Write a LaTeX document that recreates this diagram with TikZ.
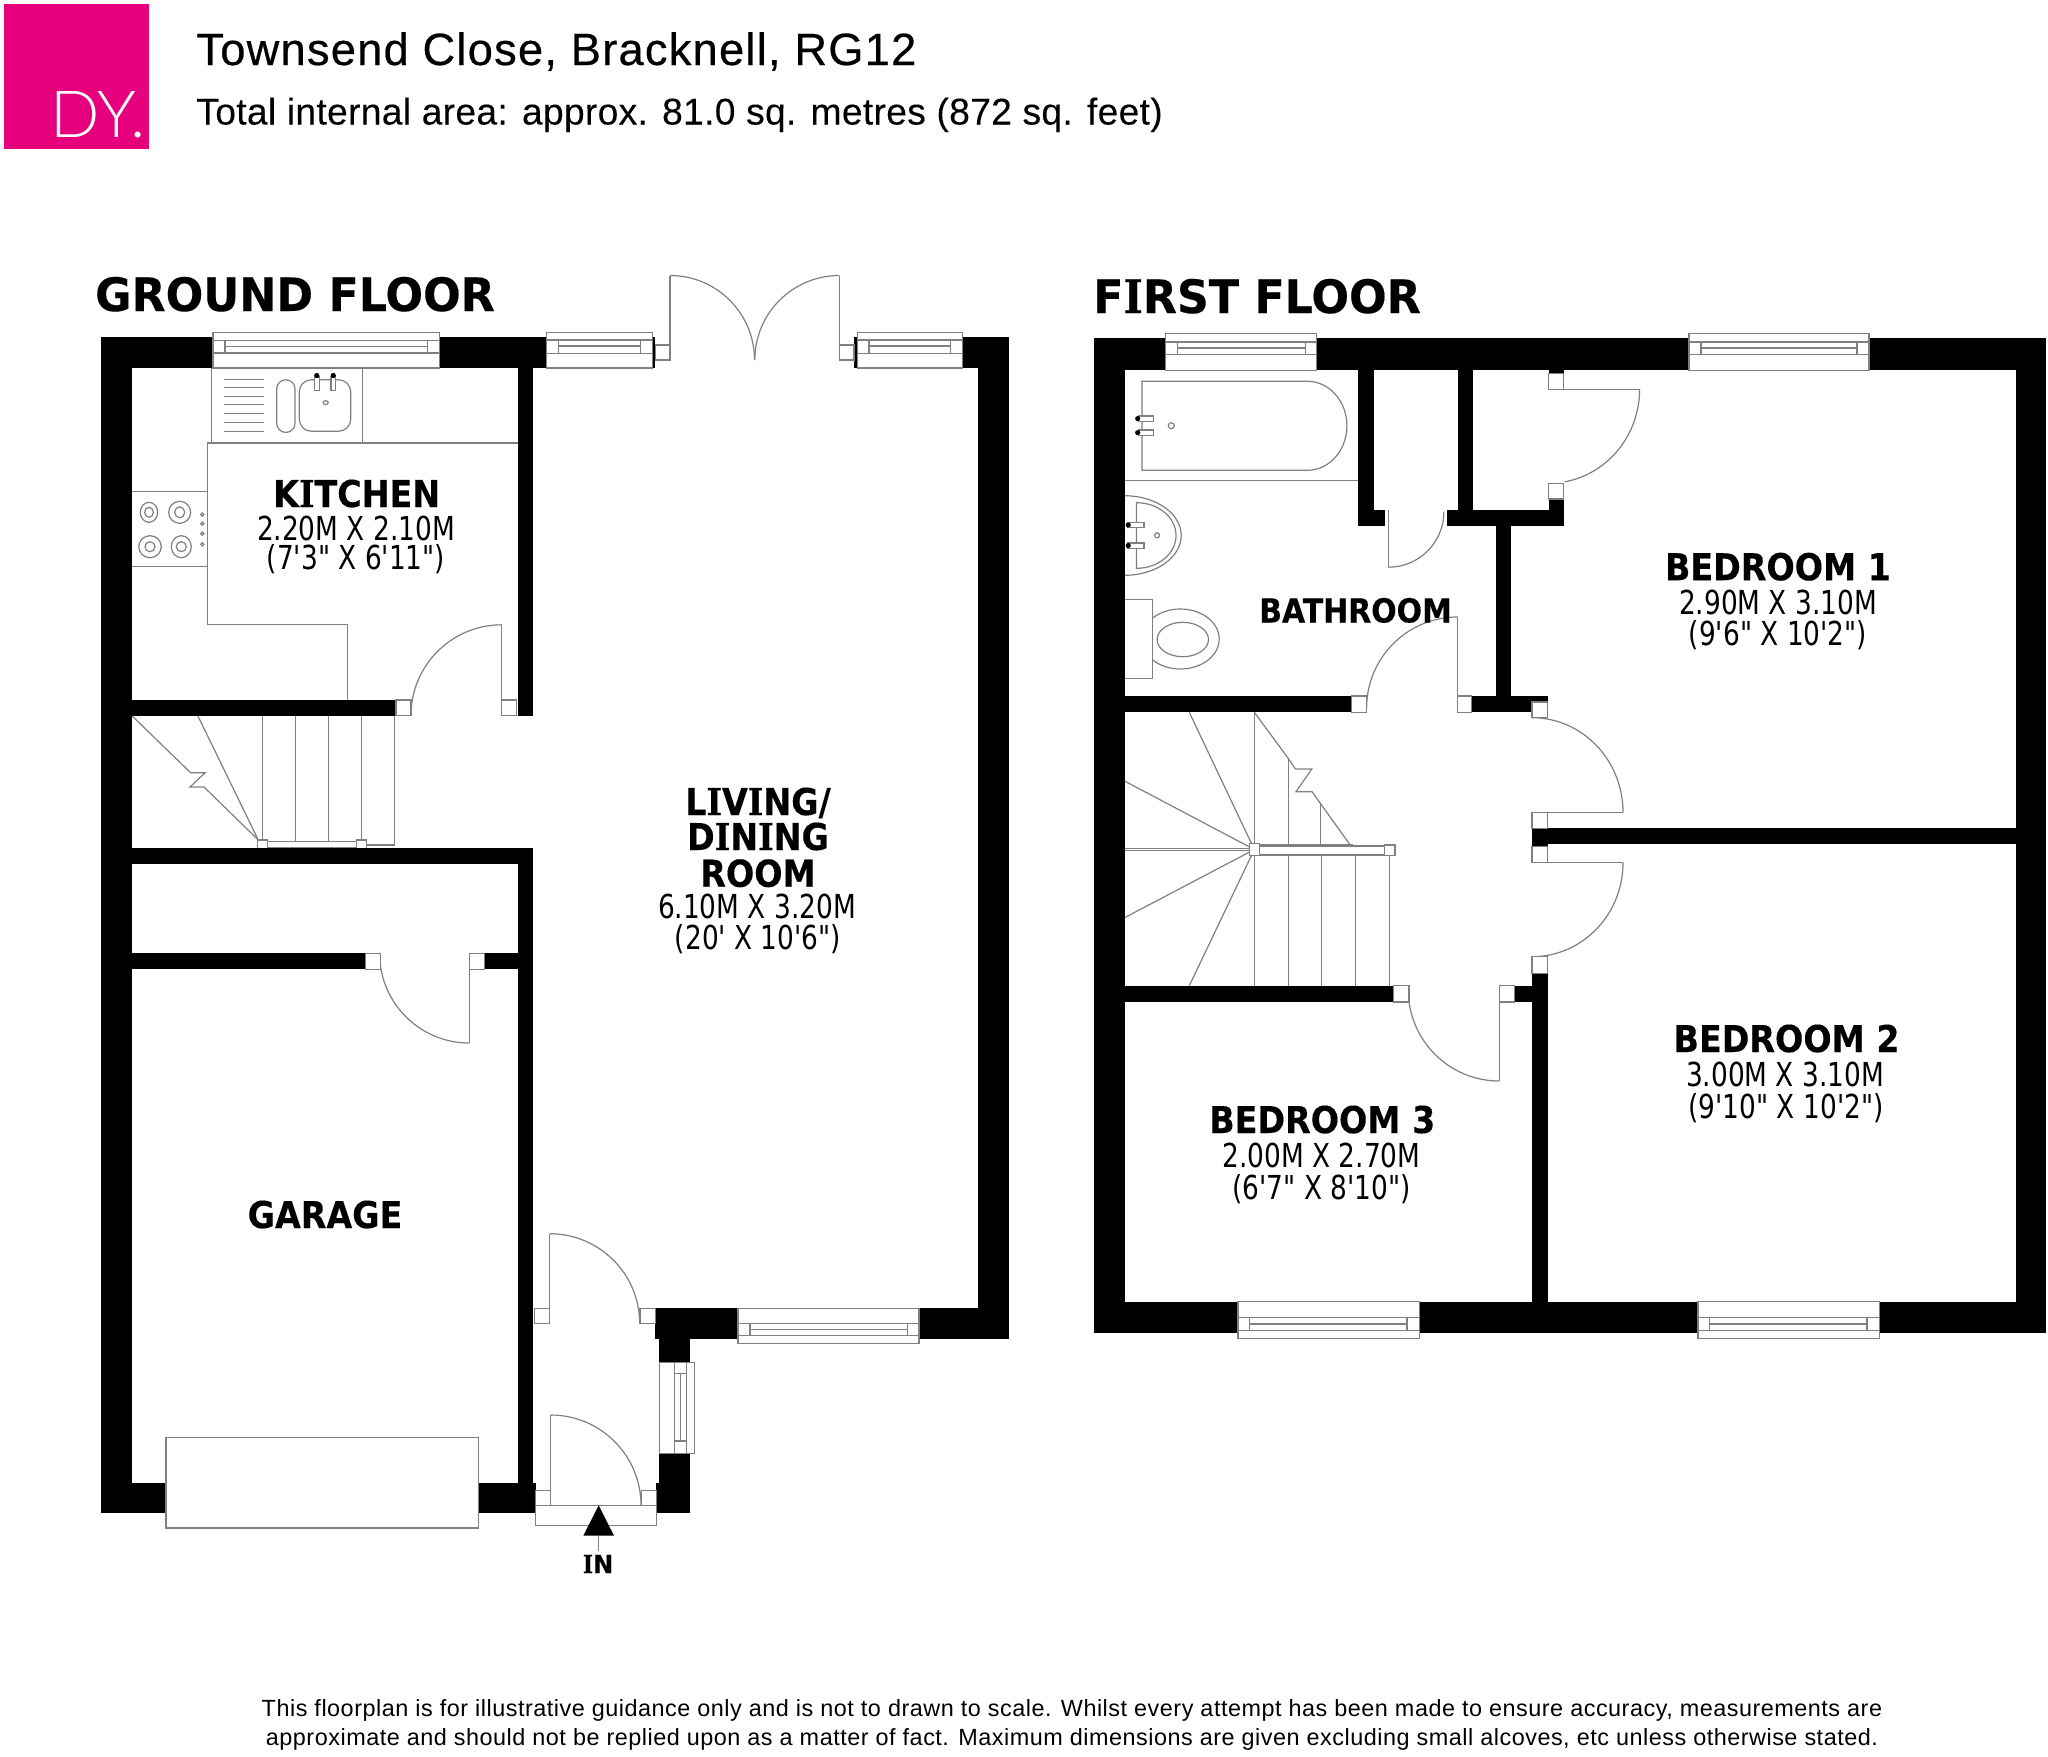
\documentclass[tikz,border=0pt]{standalone}
\usepackage{fontspec}
\setmainfont{Liberation Sans}
\newfontfamily\ttlf{Liberation Sans}[LetterSpace=2.8,FakeBold=0.5]
\newfontfamily\subf{Liberation Sans}[LetterSpace=0.85,FakeBold=0.12]
\newfontfamily\ftf{Liberation Sans}[LetterSpace=2.2]
\newfontfamily\rbf{DejaVu Sans}[FakeStretch=0.9,FakeBold=0.25]
\newfontfamily\rhf{DejaVu Sans}[FakeStretch=0.963,FakeBold=0.3]
\newfontfamily\rsf{DejaVu Serif}[FakeStretch=0.9,FakeBold=0.25]
\newfontfamily\rdf{DejaVu Sans}[FakeStretch=0.8]
\newfontfamily\dyf{Lato Light}
\newcommand{\sI}{{\rsf I}}
\definecolor{pinkdy}{HTML}{E6007E}
\definecolor{ln}{HTML}{808080}
\tikzset{
  thinline/.style={draw=ln,line width=0.6pt},
  wall/.style={fill=black},
  whitebox/.style={draw=ln,fill=white,line width=0.6pt},
  roomtitle/.style={anchor=base,inner sep=0pt,font=\rbf\bfseries\fontsize{18.5}{20}\selectfont},
  smalltitle/.style={anchor=base,inner sep=0pt,font=\rbf\bfseries\fontsize{16.6}{18}\selectfont},
  roomdim/.style={anchor=base,inner sep=0pt,font=\rdf\fontsize{16.5}{18}\selectfont},
  heading/.style={anchor=base,inner sep=0pt,font=\rhf\bfseries\fontsize{23}{25}\selectfont}
}
\newcommand{\wl}[4]{\path[wall] (#1,#2) rectangle (#3,#4);}
\newcommand{\bx}[4]{\path[whitebox] (#1,#2) rectangle (#3,#4);}
\newcommand{\ls}[1]{\draw[thinline] #1;}
\newcommand{\swing}[5]{\draw[thinline] (#1,#2) ++(#3:#5) arc[start angle=#3,end angle=#4,radius=#5];}
\newcommand{\winh}[9]{% x1 x2 top bottom l1 l2 mid s1 s2
  \path[whitebox] (#1,#3) rectangle (#2,#4);
  \draw[thinline] (#1,#5) -- (#2,#5) (#1,#6) -- (#2,#6) (#8,#7) -- (#9,#7) (#8,#5) -- (#8,#6) (#9,#5) -- (#9,#6);}
\newcommand{\tapdot}[6]{\path[whitebox] (#1,#2) rectangle (#3,#4); \fill (#5,#6) circle[radius=2.6];}
\begin{document}
\begin{tikzpicture}[x=0.5pt,y=-0.5pt]
\useasboundingbox (0,0) rectangle (2048,1756);
\fill[white] (0,0) rectangle (2048,1756);
% header
\fill[pinkdy] (4,4.3) rectangle (149,149.3);
\node[anchor=base west,inner sep=0pt,text=white,font=\dyf\fontsize{32.5}{34}\selectfont] (logo) at (50,137.3) {DY.};
\node[anchor=base west,inner sep=0pt,font=\ttlf\fontsize{22.6}{24}\selectfont] (title) at (196,65) {Townsend Close, Bracknell, RG12};
\node[anchor=base west,inner sep=0pt,font=\subf\fontsize{18.6}{20}\selectfont] (subtitle) at (196,124.5) {Total internal area: approx. 81.0 sq. metres (872 sq. feet)};
\node[heading] (gf) at (295,311) {GROUND FLOOR};
\node[heading] (ff) at (1257,313) {F\sI RST FLOOR};
% ---- ground floor fittings
\ls{(211.3,368) -- (211.3,443) (362.7,368) -- (362.7,443)}
\ls{(207.3,443) -- (517.5,443) (207.3,443) -- (207.3,624.6) -- (347.7,624.6) -- (347.7,700)}
\ls{(131.7,491.3) -- (207.3,491.3) (131.7,566.8) -- (207.3,566.8)}
\foreach \yy in {379.4,387.7,396.4,404.7,413.4,422.1,431.2}{\draw[thinline] (224,\yy) -- (264.3,\yy);}
\draw[thinline,rounded corners=4.5pt] (276.7,379.8) rectangle (295,432.4);
\draw[thinline,rounded corners=6pt] (299.3,379.8) rectangle (350.7,431.2);
\tapdot{314.3}{377}{319.3}{390.5}{316.8}{375.5}
\tapdot{331}{377}{335.7}{390.5}{333.3}{375.5}
\draw[thinline] (325.7,402.7) ellipse[x radius=2.5,y radius=2];
\draw[thinline] (149,512.3) ellipse[x radius=8.7,y radius=10] (149,512.3) ellipse[x radius=4.4,y radius=5];
\draw[thinline] (179.7,512.3) ellipse[x radius=11,y radius=11] (179.7,512.3) ellipse[x radius=5,y radius=5.5];
\draw[thinline] (150,546.7) ellipse[x radius=11.3,y radius=11] (150,546.7) ellipse[x radius=5,y radius=5];
\draw[thinline] (181.3,546.7) ellipse[x radius=10,y radius=11] (181.3,546.7) ellipse[x radius=5,y radius=5];
\foreach \yy in {514.6,523.7,533.6,544.3}{\draw[thinline] (202.3,\yy) circle[radius=1.6];}
% stairs ground
\foreach \xx in {262.7,295.3,328.3,361.3}{\draw[thinline] (\xx,715.5) -- (\xx,841.3);}
\ls{(394.3,715.5) -- (394.3,845) -- (366.7,845)}
\ls{(131.7,715.5) -- (190.7,772.8) -- (205,772.8) -- (190,787) -- (204,787) -- (258.3,840)}
\ls{(197.7,715.5) -- (258.3,840)}
\bx{267.3}{841.3}{356.3}{848}
\bx{257.7}{840}{267.3}{850}
\bx{356.3}{840}{366.3}{850}
% ---- ground floor walls
\wl{101.3}{337.3}{213}{368}
\wl{439.3}{337.3}{546.7}{368}
\wl{101.3}{337.3}{131.7}{1513}
\wl{131.7}{1482.7}{166}{1513}
\wl{478.3}{1482.7}{535.7}{1513}
\wl{517.5}{367}{533.3}{715.5}
\wl{131}{700}{396}{715.5}
\wl{131}{848.3}{533.3}{864}
\wl{517.5}{863}{533.3}{1483}
\wl{131}{953.3}{365.3}{969.3}
\wl{484.7}{953.3}{518}{969.3}
\wl{652.7}{337.3}{655.3}{368}
\wl{854}{337.3}{857.3}{368}
\wl{962.7}{337.3}{1008.7}{368}
\wl{978.3}{367}{1008.7}{1338.7}
\wl{919}{1308.3}{979}{1338.7}
\wl{655.3}{1308.3}{738}{1338.7}
\wl{659.3}{1338}{690}{1362.7}
\wl{659.3}{1453.3}{690}{1483}
\wl{656.3}{1482.7}{690}{1513.3}
% ground windows
\winh{213}{439.3}{332.4}{368}{340.5}{353}{346.5}{225}{427.7}
\winh{546.7}{652.7}{332.3}{368}{340}{353.3}{346}{558.3}{640.3}
\winh{857.3}{962.7}{332.3}{368}{340}{353.3}{346}{869}{950.7}
\winh{738}{919}{1308.3}{1343.7}{1323.7}{1335.7}{1329.3}{750}{907.3}
\path[whitebox] (659.3,1362.7) rectangle (694.7,1453.3);
\draw[thinline] (674.7,1362.7) -- (674.7,1453.3) (686.7,1362.7) -- (686.7,1453.3) (680.7,1373.7) -- (680.7,1441) (674.7,1373.7) -- (686.7,1373.7) (674.7,1441) -- (686.7,1441);
% ground doors
\swing{670}{360}{-90}{0}{84.5}
\swing{839.3}{360}{180}{270}{84.5}
\ls{(670,275.5) -- (670,360) (839.3,275.5) -- (839.3,360)}
\bx{655.3}{345}{670}{360}
\bx{839.3}{345}{854}{360}
\swing{501.7}{715.5}{180}{270}{90.7}
\ls{(501.7,624.8) -- (501.7,700)}
\bx{396}{700}{411}{715.5}
\bx{501.7}{700}{516.7}{715.5}
\swing{469.3}{953.3}{90}{180}{89.7}
\ls{(469.3,969.3) -- (469.3,1043)}
\bx{365.3}{953.3}{380.3}{969.3}
\bx{469.3}{953.3}{484.7}{969.3}
\swing{549.7}{1323.7}{270}{360}{90}
\ls{(549.7,1233.7) -- (549.7,1308.3)}
\bx{534.3}{1308.3}{549.7}{1323.7}
\bx{640}{1308.3}{655.3}{1323.7}
\swing{550.7}{1505.3}{270}{360}{90.3}
\ls{(550.7,1415) -- (550.7,1490.3)}
\bx{535.7}{1490.3}{550.7}{1505.3}
\bx{641.3}{1490.3}{656.3}{1505.3}
\bx{535.7}{1505.3}{656.3}{1525.3}
\path[whitebox] (166,1437.3) rectangle (478.3,1528);
\ls{(598.7,1535.7) -- (598.7,1550.7)}
\fill (598.7,1505.3) -- (614,1535.7) -- (583.3,1535.7) -- cycle;
% ---- first floor fittings
\ls{(1124.5,480.7) -- (1358,480.7)}
\draw[thinline] (1307.4,381.3) -- (1142,381.3) -- (1142,470.3) -- (1307.4,470.3) arc[start angle=90,end angle=-90,x radius=39.5,y radius=44.5];
\tapdot{1138.5}{416}{1153.5}{421.3}{1137.7}{418.6}
\tapdot{1138.5}{430}{1153.5}{435.3}{1137.7}{432.6}
\draw[thinline] (1171.3,425.7) circle[radius=3];
\draw[thinline] (1124.5,495.7) arc[start angle=-90,end angle=90,x radius=56.7,y radius=39.8];
\draw[thinline] (1136.5,502.7) arc[start angle=-90,end angle=90,x radius=39.5,y radius=32.8] -- cycle;
\tapdot{1127.4}{522.3}{1144}{527.7}{1128.2}{525}
\tapdot{1127.4}{543}{1144}{548.3}{1128.2}{545.6}
\draw[thinline] (1157.1,535.3) circle[radius=2.5];
\begin{scope}
\clip (1152.4,600) rectangle (1230,680);
\draw[thinline] (1180.4,639) ellipse[x radius=38.8,y radius=30];
\end{scope}
\draw[thinline] (1124.5,599.3) rectangle (1152.4,678.7);
\draw[thinline] (1182.8,639.5) ellipse[x radius=25.7,y radius=17.2];
% stairs first
\ls{(1254.3,712.3) -- (1254.3,985.7)}
\ls{(1288.2,758.3) -- (1288.2,985.7)}
\ls{(1320.4,803.3) -- (1320.4,845) (1321.8,855) -- (1321.8,985.7)}
\ls{(1355.7,855) -- (1355.7,985.7) (1389.6,855) -- (1389.6,985.7)}
\ls{(1254.3,849.5) -- (1189.3,712.3) (1254.3,849.5) -- (1124.5,781) (1254.3,849.5) -- (1124.5,917.7) (1254.3,849.5) -- (1189.3,985.7)}
\ls{(1124.5,848.3) -- (1249.3,848.3) (1124.5,850.7) -- (1249.3,850.7)}
\ls{(1254.3,712.3) -- (1288.2,758.3) -- (1295.4,769) -- (1311.8,769) -- (1296,791.7) -- (1312,791.7) -- (1350,844.7)}
\ls{(1259.6,844.3) -- (1352.9,844.3)}
\bx{1259.6}{846}{1384.6}{855}
\bx{1249.3}{843.3}{1259.6}{855.7}
\bx{1384.6}{845}{1395}{855.7}
% first floor walls
\wl{1094.2}{338.3}{1124.5}{1333.3}
\wl{1124}{338.3}{1165.8}{370.3}
\wl{1316.5}{338.3}{1689}{370.3}
\wl{1869}{338.3}{2046}{370.3}
\wl{2015.8}{370}{2046}{1333.3}
\wl{1124}{1301.7}{1238}{1333.3}
\wl{1419.5}{1301.7}{1698}{1333.3}
\wl{1879.4}{1301.7}{2016}{1333.3}
\wl{1358}{370}{1373.8}{510}
\wl{1358}{509.7}{1384.9}{525.7}
\wl{1457.6}{370}{1472.6}{510}
\wl{1447}{509.7}{1563.6}{525.7}
\wl{1548.6}{483.3}{1563.6}{510}
\wl{1548.6}{370}{1563.6}{373.3}
\wl{1496.4}{525}{1511.4}{696.5}
\wl{1124}{696}{1351.3}{712.3}
\wl{1471.8}{696}{1547.5}{712.3}
\wl{1532}{828.3}{2016}{844.3}
\wl{1532}{844}{1547.5}{846.7}
\wl{1532}{973.3}{1547.5}{1302}
\wl{1514.3}{985.7}{1532.5}{1002}
\wl{1124}{985.7}{1393.6}{1002}
% first floor windows
\winh{1165.8}{1316.5}{333.3}{370.3}{342}{354.3}{348}{1177.7}{1305.4}
\winh{1689}{1869}{333.3}{370.3}{342}{354.3}{348}{1701}{1857}
\winh{1238}{1419.5}{1301.7}{1338.3}{1317.3}{1330.3}{1324}{1249.8}{1407}
\winh{1698}{1879.4}{1301.7}{1338.3}{1317.3}{1330.3}{1324}{1709.6}{1867}
% first floor doors
\draw[thinline] (1639.6,389.3) arc[start angle=0,end angle=80,x radius=91,y radius=94];
\ls{(1563.6,389.3) -- (1639.6,389.3)}
\bx{1548.6}{373.3}{1563.6}{389.3}
\bx{1548.6}{483.3}{1563.6}{499}
\swing{1388.4}{511.7}{0}{90}{55.5}
\ls{(1388.4,509.7) -- (1388.4,567.2)}
\swing{1457.6}{708}{180}{270}{91}
\ls{(1457.6,617) -- (1457.6,696)}
\bx{1351.3}{696}{1366.3}{712.3}
\bx{1457.6}{696}{1471.8}{712.3}
\draw[thinline] (1623,812.3) arc[start angle=0,end angle=-90,x radius=91,y radius=94.6];
\ls{(1547.5,812.3) -- (1623,812.3)}
\bx{1532}{702}{1547.5}{717.7}
\bx{1532}{812.3}{1547.5}{828.3}
\draw[thinline] (1623,862.7) arc[start angle=0,end angle=90,x radius=91,y radius=94];
\ls{(1547.5,862.7) -- (1623,862.7)}
\bx{1532}{846.7}{1547.5}{862.7}
\bx{1532}{956.7}{1547.5}{973.3}
\swing{1499.3}{990}{90}{180}{91}
\ls{(1499.3,1002) -- (1499.3,1081)}
\bx{1393.6}{985.7}{1408.9}{1002}
\bx{1499.3}{985.7}{1514.3}{1002}
% labels
\node[roomtitle] (kitchen) at (356.7,507) {K\sI TCHEN};
\node[roomdim] (kitchenA) at (356,540) {2.20M X 2.10M};
\node[roomdim] (kitchenB) at (356,569.6) {(7'3" X 6'11")};
\node[roomtitle] (livingA) at (758,815) {L\sI V\sI NG/};
\node[roomtitle] (livingB) at (758,850) {D\sI N\sI NG};
\node[roomtitle] (livingC) at (758,886.7) {ROOM};
\node[roomdim] (livingD) at (757,918.8) {6.10M X 3.20M};
\node[roomdim] (livingE) at (758,949) {(20' X 10'6")};
\node[roomtitle] (garage) at (325,1228) {GARAGE};
\node[anchor=base,inner sep=0pt,font=\rhf\bfseries\fontsize{12.4}{14}\selectfont] (in) at (598,1573) {\sI N};
\node[smalltitle] (bathroom) at (1355.5,622.5) {BATHROOM};
\node[roomtitle] (bedA) at (1778,580.2) {BEDROOM 1};
\node[roomdim] (bedAa) at (1778,614.6) {2.90M X 3.10M};
\node[roomdim] (bedAb) at (1778,645.4) {(9'6" X 10'2")};
\node[roomtitle] (bedB) at (1786.6,1052) {BEDROOM 2};
\node[roomdim] (bedBa) at (1785,1086.4) {3.00M X 3.10M};
\node[roomdim] (bedBb) at (1786,1118) {(9'10" X 10'2")};
\node[roomtitle] (bedC) at (1322.3,1133) {BEDROOM 3};
\node[roomdim] (bedCa) at (1321.5,1167.5) {2.00M X 2.70M};
\node[roomdim] (bedCb) at (1321.5,1199.2) {(6'7" X 8'10")};
\node[anchor=base,inner sep=0pt,font=\ftf\fontsize{11.7}{13}\selectfont] (footA) at (1072,1716.7) {This floorplan is for illustrative guidance only and is not to drawn to scale. Whilst every attempt has been made to ensure accuracy, measurements are};
\node[anchor=base,inner sep=0pt,font=\ftf\fontsize{11.7}{13}\selectfont] (footB) at (1072,1745.2) {approximate and should not be replied upon as a matter of fact. Maximum dimensions are given excluding small alcoves, etc unless otherwise stated.};
\end{tikzpicture}
\end{document}
